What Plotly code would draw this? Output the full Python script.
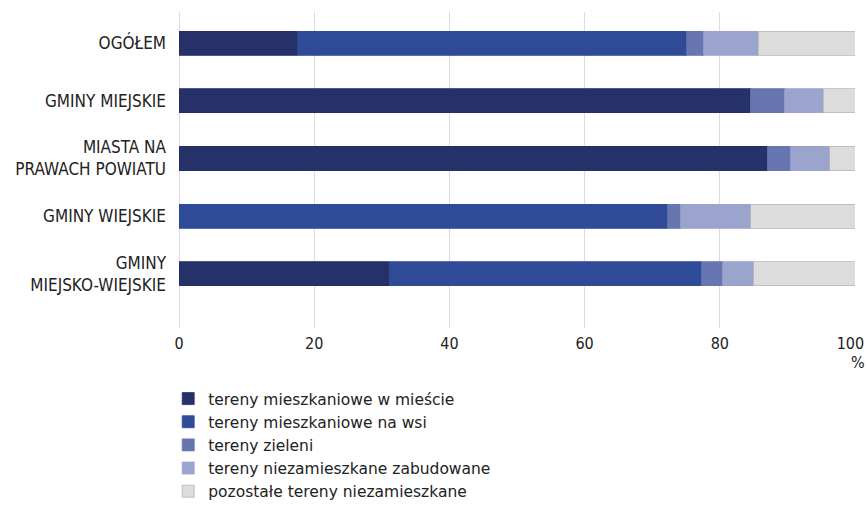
import plotly.graph_objects as go

categories = ["OGÓŁEM", "GMINY MIEJSKIE", "MIASTA NA<br>PRAWACH POWIATU", "GMINY WIEJSKIE", "GMINY<br>MIEJSKO-WIEJSKIE"]
series_names = [
    "tereny mieszkaniowe w mieście",
    "tereny mieszkaniowe na wsi",
    "tereny zieleni",
    "tereny niezamieszkane zabudowane",
    "pozostałe tereny niezamieszkane",
]
miasto = [17.6, 84.6, 87.1, 0.0, 31.1]
wies = [57.5, 0.0, 0.0, 72.3, 46.2]
zielen = [2.5, 5.0, 3.4, 1.9, 3.1]
zabudowane = [8.1, 5.7, 5.8, 10.4, 4.6]
pozostale = [14.3, 4.7, 3.7, 15.4, 15.0]
tick_vals = [0, 20, 40, 60, 80, 100]
tick_text = ["0", "20", "40", "60", "80", "100\u2007"]

colors = ["#263169", "#2f4b97", "#6775b1", "#9ba4cd", "#dcdcdc"]
values = [miasto, wies, zielen, zabudowane, pozostale]

fig = go.Figure()
for name, vals, col in zip(series_names, values, colors):
    fig.add_trace(go.Bar(
        y=categories, x=vals, name=name, orientation="h",
        marker=dict(color=col, line=dict(width=0.8, color="#b8b8b8" if col == "#dcdcdc" else col)),
    ))

fig.update_layout(
    barmode="stack",
    width=867, height=509,
    margin=dict(l=179, r=0, t=0, b=181),
    paper_bgcolor="white", plot_bgcolor="white",
    bargap=0.58,
    font=dict(family="Liberation Sans Narrow, DejaVu Sans Condensed, sans-serif", size=16, color="#222222"),
    xaxis=dict(range=[0, 100], domain=[0, 676 / 688], tickvals=tick_vals, ticktext=tick_text,
               showgrid=True, gridcolor="#d9dce8", gridwidth=1,
               zeroline=True, zerolinecolor="#d9dce8", zerolinewidth=1, ticks="", ticklen=0,
               tickfont=dict(size=16), automargin=False, ticklabelstandoff=4,
               ticklabeloverflow="allow"),
    yaxis=dict(range=[4.94, -0.54], domain=[0, 316 / 328], showgrid=False, zeroline=False,
               ticks="", ticklabelstandoff=12, tickfont=dict(size=17), automargin=False),
    legend=dict(orientation="v", x=-0.0157, xanchor="left", y=-0.5488, yanchor="bottom",
                font=dict(family="DejaVu Sans, sans-serif", size=15.5, color="#222222"),
                traceorder="normal", itemwidth=30, tracegroupgap=0),
    showlegend=True,
)
fig.add_annotation(x=100, y=-0.1037, xref="x", yref="paper", text="%", showarrow=False,
                   xanchor="center", yanchor="middle", xshift=3, font=dict(size=16))

fig.write_html("out.html", config={"displayModeBar": False},
               post_script="document.body.style.margin='0';document.body.style.overflow='hidden';")
